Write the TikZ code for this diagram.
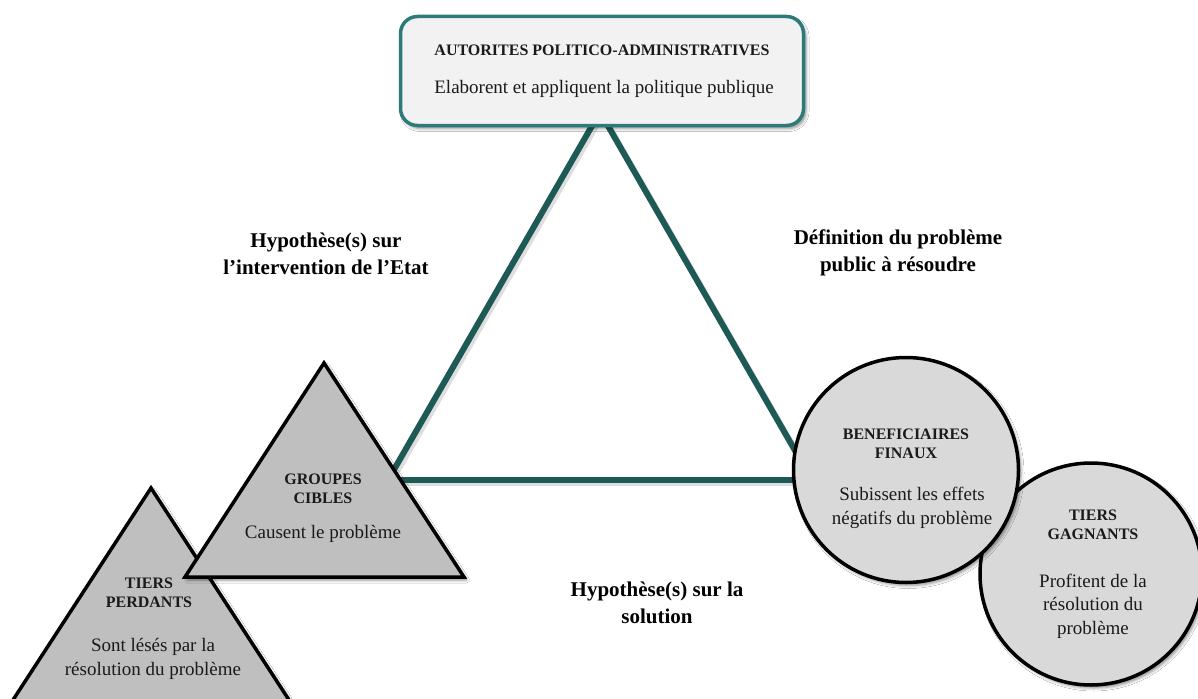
\documentclass[tikz,border=0pt]{standalone}
\usepackage{fontspec}
\setmainfont{Liberation Serif}
\usetikzlibrary{shadows.blur}
\definecolor{boxteal}{HTML}{2C7B78}
\definecolor{lineteal}{HTML}{1D5955}
\definecolor{boxfill}{HTML}{F2F2F2}
\definecolor{trifill}{HTML}{BFBFBF}
\definecolor{circfill}{HTML}{D9D9D9}
\definecolor{txt}{HTML}{1A1A1A}
\tikzset{
  shad/.style={blur shadow={shadow xshift=2.5pt, shadow yshift=-3pt, shadow blur radius=3pt, shadow opacity=45}},
  linkline/.style={draw=lineteal, line width=6pt},
  linkshadow/.style={draw=black!25, line width=6pt, opacity=0.5},
  tri/.style={draw=black, line width=3.5pt, fill=trifill, line join=miter},
  circ/.style={draw=black, line width=3.5pt, fill=circfill},
  title/.style={font=\fontsize{16}{19}\selectfont\bfseries, text=txt, align=center, inner sep=0pt},
  body/.style={font=\fontsize{19}{23.5}\selectfont, text=txt, align=center, inner sep=0pt},
  lab/.style={font=\fontsize{21}{27}\selectfont\bfseries, text=black, align=center, inner sep=0pt},
}
\begin{document}
\begin{tikzpicture}[x=1pt,y=-1pt]
\clip (0,0) rectangle (1198,698);
\fill[white] (0,0) rectangle (1198,698);
% triangle of relations
\coordinate (apex) at (600,112);
\coordinate (vl) at (388,480);
\coordinate (vr) at (812,480);
\draw[linkshadow] ([shift={(2.5,3)}]apex) -- ([shift={(2.5,3)}]vl);
\draw[linkshadow] ([shift={(2.5,3)}]apex) -- ([shift={(2.5,3)}]vr);
\draw[linkshadow] ([shift={(2.5,3)}]vl) -- ([shift={(2.5,3)}]vr);
\draw[linkline] (apex) -- (vl);
\draw[linkline] (apex) -- (vr);
\draw[linkline] (vl) -- (vr);
% top box
\node[draw=boxteal, line width=3.5pt, fill=boxfill, rounded corners=17pt,
      minimum width=403pt, minimum height=109pt, shad, inner sep=0pt] (auth) at (602,71) {};
\node[title] (authT) at (602,50) {AUTORITES POLITICO-ADMINISTRATIVES};
\node[body] (authB) at (604,89) {Elaborent et appliquent la politique publique};
% tiers perdants
\draw[tri, shad] (151,488) -- (11,703) -- (291,703) -- cycle;
\node[title] (tpT) at (149,593) {TIERS\\PERDANTS};
\node[body] (tpB) at (153,659) {Sont lésés par la\\résolution du problème};
% groupes cibles
\draw[tri, shad] (324,363) -- (185,577) -- (464,577) -- cycle;
\node[title] (gcT) at (323,489) {GROUPES\\CIBLES};
\node[body] (gcB) at (323,534) {Causent le problème};
% tiers gagnants
\node[circ, shad, circle, minimum size=222pt, inner sep=0pt] (tg) at (1091,574) {};
\node[title] (tgT) at (1093,525) {TIERS\\GAGNANTS};
\node[body] (tgB) at (1093,606) {Profitent de la\\résolution du\\problème};
% beneficiaires finaux
\node[circ, shad, circle, minimum size=225pt, inner sep=0pt] (bf) at (906,470) {};
\node[title] (bfT) at (906,444) {BENEFICIAIRES\\FINAUX};
\node[body] (bfB) at (912,508) {Subissent les effets\\négatifs du problème};
% relation labels
\node[lab] (hEtat) at (326,254) {Hypothèse(s) sur\\l’intervention de l’Etat};
\node[lab] (defP) at (898,253) {Définition du problème\\public à résoudre};
\node[lab] (hSol) at (657,603) {Hypothèse(s) sur la\\solution};
\end{tikzpicture}
\end{document}
